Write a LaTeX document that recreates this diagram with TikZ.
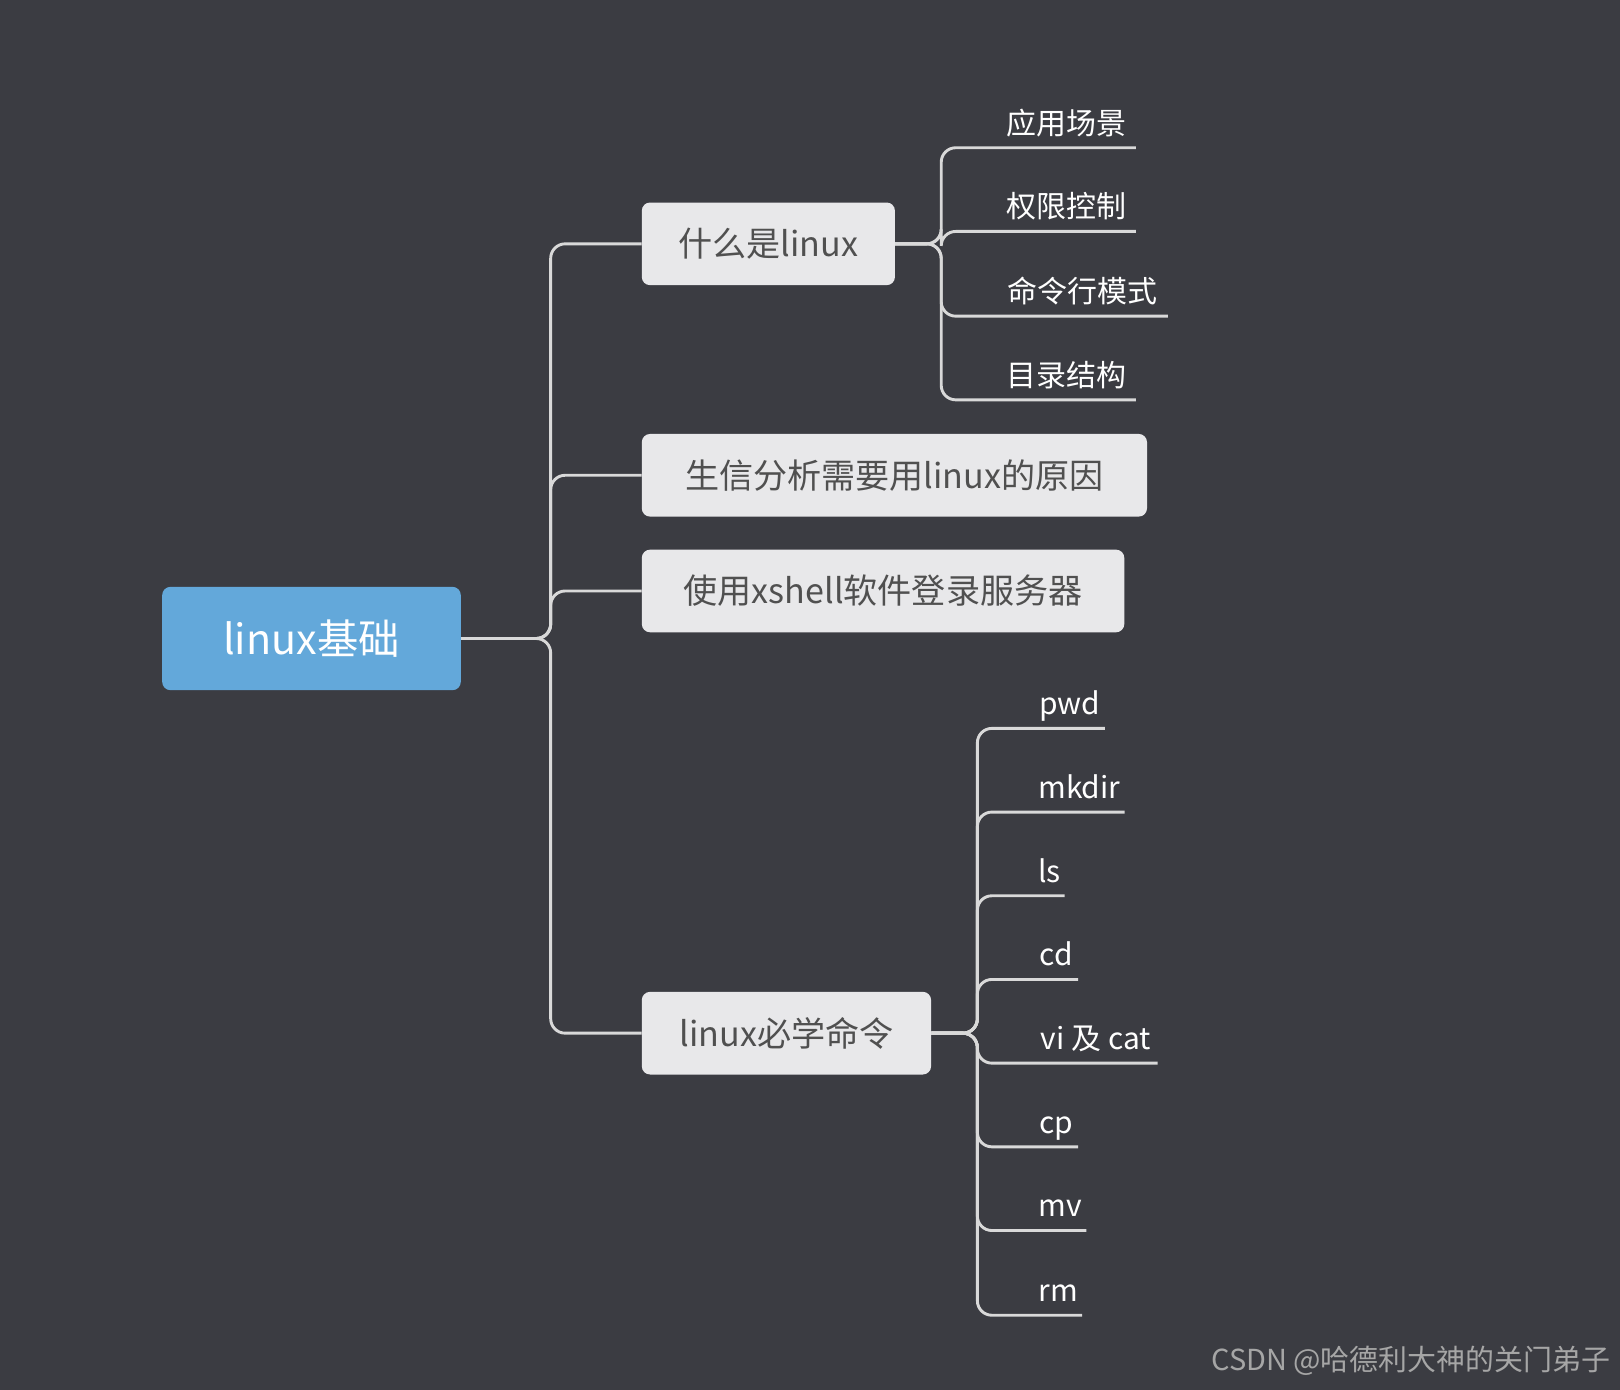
\documentclass[tikz,border=0pt]{standalone}
\usepackage{fontspec}
\setmainfont{Noto Sans CJK SC}
\begin{document}
\begin{tikzpicture}[x=1pt,y=-1pt,
 conn/.style={draw=lineclr,line width=2.8pt,rounded corners=14pt},
 branch/.style={fill=boxclr,rounded corners=8pt,text=txtclr,font=\fontsize{33}{36}\selectfont,inner sep=0pt,minimum height=80pt,anchor=west},
 leaf/.style={anchor=south west,inner xsep=0pt,inner ysep=9pt,text=white,font=\fontsize{29}{32}\selectfont,text depth=4pt}]
\definecolor{bgclr}{HTML}{3B3C42}
\definecolor{lineclr}{HTML}{D9D9D9}
\definecolor{boxclr}{HTML}{E8E8EA}
\definecolor{txtclr}{HTML}{505050}
\definecolor{rootclr}{HTML}{63A8DA}
\fill[bgclr] (0,0) rectangle (1568,1345);
\useasboundingbox (0,0) rectangle (1568,1345);
\node[fill=rootclr,rounded corners=8pt,text=white,font=\fontsize{40}{44}\selectfont,minimum width=289pt,minimum height=100pt,inner sep=0pt] (root) at (301.5,618) {linux基础};
\node[branch,minimum width=245pt] (b1) at (621,236) {什么是linux};
\node[branch,minimum width=489pt] (b2) at (621,460) {生信分析需要用linux的原因};
\node[branch,minimum width=467pt] (b3) at (621,572) {使用xshell软件登录服务器};
\node[branch,minimum width=280pt] (b4) at (621,1000) {linux必学命令};
\coordinate (t) at (533,618);
\foreach \b in {b1,b2,b3,b4}{\draw[conn] (root.east) -- (t) |- (\b.west);}
% leaves of b1
\foreach \n/\y/\w/\l in {a1/143/153/应用场景,a2/224/153/权限控制,a3/306/184/命令行模式,a4/387/153/目录结构}{
 \node[leaf,minimum width=\w pt] (\n) at (946,\y) {\hspace*{19pt}\l};
 \draw[conn] (b1.east) -- (911,236) |- (\n.south east);
}
% leaves of b4
\foreach \n/\y/\w/\l in {c1/705/123/pwd,c2/786/142/mkdir,c3/867/84/ls,c4/948/97/cd,c5/1029/174/vi 及 cat,c6/1110/97/cp,c7/1191/105/mv,c8/1273/101/rm}{
 \node[leaf,minimum width=\w pt,align=left] (\n) at (946,\y) {\hspace*{55pt}\l\hfill};
 \draw[conn] (b4.east) -- (946,1000) |- (\n.south east);
}
\node[anchor=east,text=gray!70,font=\fontsize{28}{30}\selectfont] (wm) at (1562,1317) {CSDN @哈德利大神的关门弟子};
\end{tikzpicture}
\end{document}
